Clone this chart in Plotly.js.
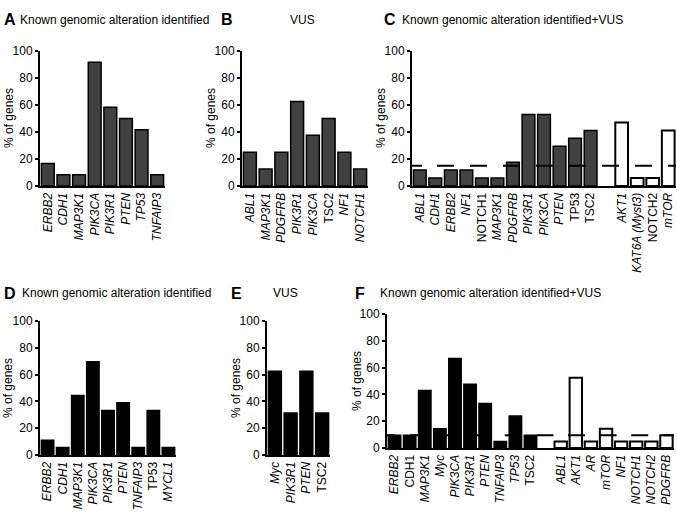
<!DOCTYPE html>
<html>
<head>
<meta charset="utf-8">
<script src="https://cdn.plot.ly/plotly-3.0.1.min.js"></script>
<style>
  html, body { margin: 0; padding: 0; background: #fff; }
  #chart { width: 677px; height: 515px; }
</style>
</head>
<body>
<div id="chart"></div>
<script>
// % of genes per panel
const genesA = ['ERBB2', 'CDH1', 'MAP3K1', 'PIK3CA', 'PIK3R1', 'PTEN', 'TP53', 'TNFAIP3'];
const pctA = [16.7, 8.3, 8.3, 91.7, 58.3, 50, 41.7, 8.3];

const genesB = ['ABL1', 'MAP3K1', 'PDGFRB', 'PIK3R1', 'PIK3CA', 'TSC2', 'NF1', 'NOTCH1'];
const pctB = [25, 12.5, 25, 62.5, 37.5, 50, 25, 12.5];

const genesC = ['ABL1', 'CDH1', 'ERBB2', 'NF1', 'NOTCH1', 'MAP3K1', 'PDGFRB', 'PIK3R1', 'PIK3CA', 'PTEN', 'TP53', 'TSC2'];
const pctC = [11.8, 5.9, 11.8, 11.8, 5.9, 5.9, 17.6, 52.9, 52.9, 29.4, 35.3, 41.2];
const genesCvus = ['AKT1', 'KAT6A (Myst3)', 'NOTCH2', 'mTOR'];
const pctCvus = [47.1, 5.9, 5.9, 41.2];
const cutC = 15;

const genesD = ['ERBB2', 'CDH1', 'MAP3K1', 'PIK3CA', 'PIK3R1', 'PTEN', 'TNFAIP3', 'TP53', 'MYCL1'];
const pctD = [11.1, 5.6, 44.4, 69.5, 33.3, 38.9, 5.6, 33.3, 5.6];

const genesE = ['Myc', 'PIK3R1', 'PTEN', 'TSC2'];
const pctE = [62.5, 31.3, 62.5, 31.3];

const genesF = ['ERBB2', 'CDH1', 'MAP3K1', 'Myc', 'PIK3CA', 'PIK3R1', 'PTEN', 'TNFAIP3', 'TP53', 'TSC2'];
const pctF = [9.5, 9.5, 42.9, 14.3, 66.7, 47.6, 33.3, 4.8, 23.8, 9.5];
const genesFvus = ['ABL1', 'AKT1', 'AR', 'mTOR', 'NF1', 'NOTCH1', 'NOTCH2', 'PDGFRB'];
const pctFvus = [4.8, 52.4, 4.8, 14.3, 4.8, 4.8, 4.8, 9.5];
const cutF = 9.5;

// gene names printed upright (the rest are italic)
const upright = {
    A: [], B: ['TSC2'], C: ['NOTCH1', 'TP53', 'TSC2', 'NOTCH2'],
    D: ['TP53'], E: ['TSC2'], F: ['CDH1', 'TSC2']
};

const W = 677, H = 515;
const FONT = 'Liberation Sans, Arial, sans-serif';
const GREY = '#414141';

function px(x) { return x / W; }
function py(y) { return 1 - y / H; }

function label(panel, g) {
    return upright[panel].includes(g) ? g : '<i>' + g + '</i>';
}

// build tick positions; a blank slot separates the VUS-only genes
function slots(main, extra) {
    const x1 = main.map((g, i) => i);
    const x2 = (extra || []).map((g, i) => main.length + 1 + i);
    return [x1, x2];
}

const panels = [
    { id: 'A', genes: genesA, pct: pctA, fill: GREY, dom: [40, 165, 51, 186] },
    { id: 'B', genes: genesB, pct: pctB, fill: GREY, dom: [242, 368, 51, 186] },
    { id: 'C', genes: genesC, pct: pctC, fill: GREY, vus: genesCvus, vusPct: pctCvus, cut: cutC,
      dash: '10px,15px,17px,16px,17px,16px,17px,16px,17px,16px,17px,16px,17px,16px,17px,16px,17px,16px',
      dom: [412, 676, 51, 186] },
    { id: 'D', genes: genesD, pct: pctD, fill: '#000', dom: [40, 176, 321, 455] },
    { id: 'E', genes: genesE, pct: pctE, fill: '#000', dom: [267, 330, 321, 455] },
    { id: 'F', genes: genesF, pct: pctF, fill: '#000', vus: genesFvus, vusPct: pctFvus, cut: cutF,
      dash: '8px,15px,17px,14.6px,17px,14.6px,17px,14.6px,17px,14.6px,17px,14.6px,17px,14.6px,17px,14.6px,17px,14.6px,17px,14.6px',
      dom: [387, 674, 314, 448] }
];

const data = [];
const layout = {
    width: W, height: H,
    margin: { l: 0, r: 0, t: 0, b: 0 },
    paper_bgcolor: '#fff',
    plot_bgcolor: 'rgba(0,0,0,0)',
    font: { family: FONT, size: 12, color: '#000' },
    showlegend: false,
    barmode: 'overlay',
    bargap: 0.18,
    shapes: [],
    annotations: []
};

panels.forEach((p, k) => {
    const n = k + 1;
    const xa = 'x' + (n === 1 ? '' : n);
    const ya = 'y' + (n === 1 ? '' : n);
    const [xMain, xVus] = slots(p.genes, p.vus);
    const allX = xMain.concat(xVus);
    const allLabels = p.genes.concat(p.vus || []);

    data.push({
        type: 'bar', x: xMain, y: p.pct, xaxis: xa, yaxis: ya,
        marker: { color: p.fill, line: { color: '#000', width: 1.5 } },
        hoverinfo: 'x+y'
    });
    if (p.vus) {
        data.push({
            type: 'bar', x: xVus, y: p.vusPct, xaxis: xa, yaxis: ya,
            marker: { color: '#fff', line: { color: '#000', width: 2 } },
            hoverinfo: 'x+y'
        });
    }

    const [x0, x1, y0, y1] = p.dom;
    const nSlots = allX.length ? allX[allX.length - 1] + 1 : p.genes.length;

    layout['xaxis' + (n === 1 ? '' : n)] = {
        domain: [px(x0), px(x1)],
        anchor: ya,
        range: [-0.5, nSlots - 0.5],
        tickmode: 'array',
        tickvals: allX,
        ticktext: allLabels.map(g => label(p.id, g)),
        tickangle: -90,
        ticks: '',
        showline: true, linewidth: 2, linecolor: '#000',
        showgrid: false, zeroline: false,
        tickfont: { size: 12, family: FONT, color: '#000' },
        fixedrange: true
    };
    layout['yaxis' + (n === 1 ? '' : n)] = {
        domain: [py(y1), py(y0)],
        anchor: xa,
        range: [0, 100],
        tickmode: 'array',
        tickvals: [0, 20, 40, 60, 80, 100],
        ticks: 'outside', ticklen: 3, tickwidth: 2, tickcolor: '#000',
        showline: true, linewidth: 2, linecolor: '#000',
        showgrid: false, zeroline: false,
        tickfont: { size: 12, family: FONT, color: '#000' },
        fixedrange: true
    };

    if (p.cut !== undefined) {
        layout.shapes.push({
            type: 'line', xref: xa + ' domain', yref: ya,
            x0: 0, x1: 1, y0: p.cut, y1: p.cut,
            line: { color: '#000', width: 2, dash: p.dash }
        });
    }
});

// y-axis titles
const yTitles = [[9, 118], [211, 118], [381, 118], [8, 388], [236, 388], [357, 381]];
yTitles.forEach(([x, y]) => {
    layout.annotations.push({
        text: '% of genes', xref: 'paper', yref: 'paper',
        x: px(x), y: py(y), xanchor: 'center', yanchor: 'middle',
        textangle: -90, showarrow: false, font: { size: 12, family: FONT }
    });
});

// panel letters and headings
const letters = [['A', 2, 20], ['B', 219, 20], ['C', 382, 20], ['D', 2, 293], ['E', 229, 293], ['F', 353, 293]];
letters.forEach(([t, x, y]) => {
    layout.annotations.push({
        text: '<b>' + t + '</b>', xref: 'paper', yref: 'paper',
        x: px(x), y: py(y), xanchor: 'left', yanchor: 'middle',
        showarrow: false, font: { size: 16, family: FONT }
    });
});
const headings = [
    ['Known genomic alteration identified', 18, 20, 'left'],
    ['VUS', 302, 20, 'center'],
    ['Known genomic alteration identified+VUS', 400, 20, 'left'],
    ['Known genomic alteration identified', 20, 293, 'left'],
    ['VUS', 285, 293, 'center'],
    ['Known genomic alteration identified+VUS', 378, 293, 'left']
];
headings.forEach(([t, x, y, anchor]) => {
    layout.annotations.push({
        text: t, xref: 'paper', yref: 'paper',
        x: px(x), y: py(y), xanchor: anchor, yanchor: 'middle',
        showarrow: false, font: { size: 12, family: FONT }
    });
});

Plotly.newPlot('chart', data, layout, { displayModeBar: false, staticPlot: true });
</script>
</body>
</html>
